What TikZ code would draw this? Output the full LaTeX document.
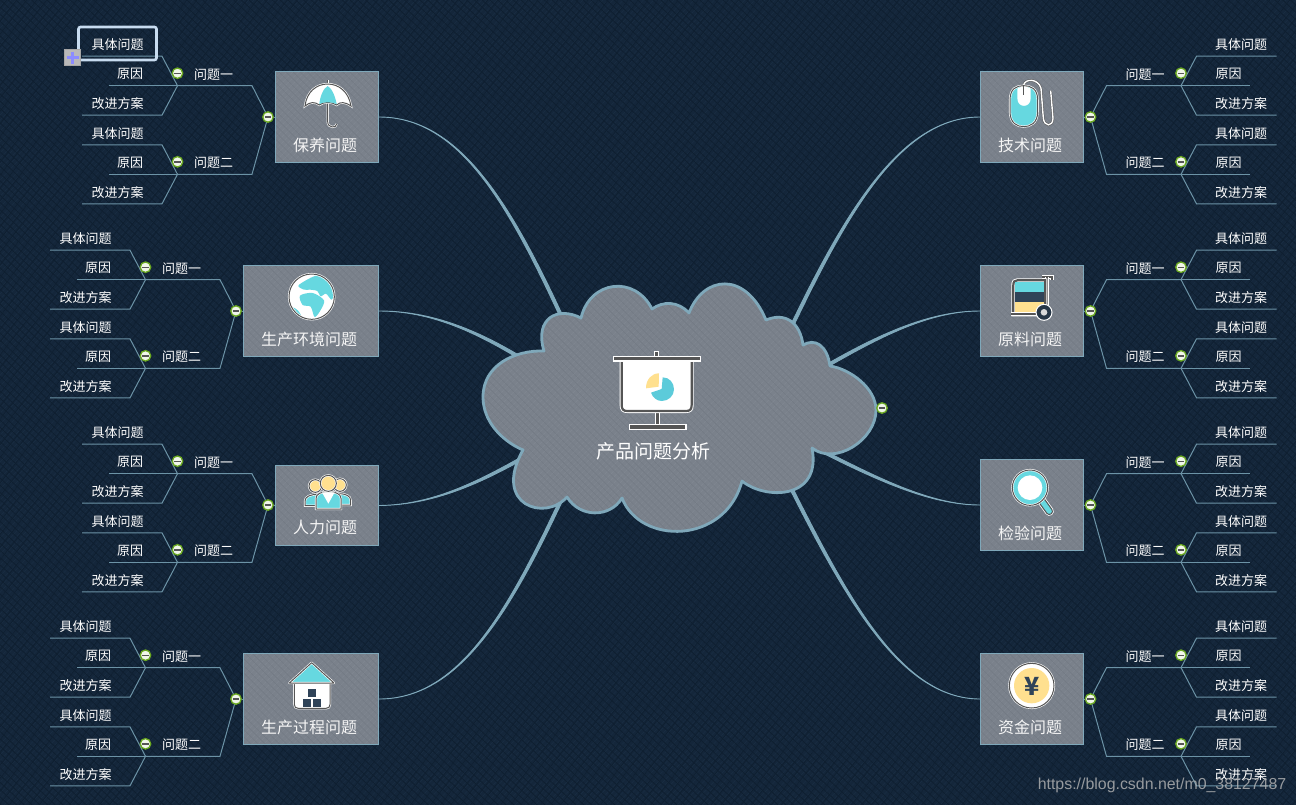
\documentclass[tikz,border=0pt]{standalone}
\usepackage{xcolor}
\usepackage{fontspec}
\setmainfont{Noto Sans CJK SC}
\newfontfamily\markfont{Liberation Sans}
\usetikzlibrary{calc,patterns.meta}

\definecolor{nightblue}{HTML}{14263A}
\definecolor{hatchlight}{HTML}{1A2E43}
\definecolor{hatchdark}{HTML}{0F1F30}
\definecolor{slategray}{HTML}{7A818B}
\definecolor{slatelight}{HTML}{828993}
\definecolor{slatedark}{HTML}{737A84}
\definecolor{edgeblue}{HTML}{7FA8BA}
\definecolor{twigblue}{HTML}{6C93A6}
\definecolor{aqua}{HTML}{66D8E0}
\definecolor{pieblue}{HTML}{5CCBDA}
\definecolor{butter}{HTML}{FFE08F}
\definecolor{inkblue}{HTML}{2F4358}
\definecolor{icongray}{HTML}{555555}
\definecolor{togglegreen}{HTML}{6AA820}
\definecolor{pickblue}{HTML}{C8DCF0}

% one side branch: toggle, two questions, three leaves under each
\newcommand{\issuetree}[5]{%
  \begin{scope}[shift={(#2,#3)},xscale=#4]
    \coordinate (#1hub) at (0,0);
    \foreach \sub/\title/\dy in {a/问题一/-31.3, b/问题二/57.3} {
      \coordinate (#1\sub knee) at (16,\dy);
      \coordinate (#1\sub fork) at (90.5,\dy);
      \draw[twig] (#1hub) -- (#1\sub knee) -- (#1\sub fork);
      \node[leaf] (#1\sub q) at (54.5,\dy-11.4) {\title};
      \foreach \dl/\uend/\utext/\word [count=\n] in {-29.5/186/150.5/具体问题, 0/159/138/原因, 29.5/186/150.5/改进方案} {
        \coordinate (#1\sub\n k) at (106,\dy+\dl);
        \coordinate (#1\sub\n e) at (\uend,\dy+\dl);
        \draw[twig] (#1\sub fork) -- (#1\sub\n k) -- (#1\sub\n e);
        \node[leaf] (#1\sub\n) at (\utext,\dy+\dl-11.4) {\word};
      }
      \node[toggle] (#1\sub t) at (90.5,\dy-12.5) {};
    }
    \node[toggle] (#1t) at (0,0) {};
  \end{scope}
  \draw[twig] (#1t) -- (#1.#5);
}

% tapered trunk from a box to the cloud
\newcommand{\trunk}[5]{%
  \fill[trunkline] (#1) .. controls (#2) and ($(#3)+(#5)$) .. ($(#4)+(#5)$)
    -- ($(#4)-(#5)$) .. controls ($(#3)-(#5)$) and (#2) .. (#1) -- cycle;
}

\begin{document}
\begin{tikzpicture}[
  x=1pt, y=-1pt,
  topic/.style={rectangle, draw=edgeblue, line width=1pt, inner sep=0pt,
    preaction={fill=slategray},
    preaction={pattern={Lines[angle=45,distance=4pt,line width=.5pt]}, pattern color=slatelight},
    preaction={pattern={Lines[angle=-45,distance=5pt,line width=.5pt]}, pattern color=slatedark}},
  topictext/.style={font=\fontsize{16}{18}\selectfont, text=white!96!black, inner sep=0pt},
  leaf/.style={font=\fontsize{13}{15}\selectfont, text=white, inner sep=0pt},
  twig/.style={draw=twigblue, line width=1pt},
  trunkline/.style={fill=edgeblue, draw=edgeblue, line width=.9pt},
  toggle/.style={circle, draw=togglegreen, line width=1.3pt, fill=white!90!togglegreen, minimum size=10.5pt, inner sep=0pt,
    path picture={\draw[line width=1.4pt, icongray] (-3.4,0) -- (3.4,0);}},
  iconline/.style={draw=white, double=icongray, line width=.6pt, double distance=1pt},
  iconheavy/.style={draw=white, double=icongray, line width=.9pt, double distance=2.2pt},
  iconbar/.style={draw=white, fill=icongray, line width=1.1pt},
  selected/.style={rectangle, rounded corners=2pt, draw=pickblue, line width=2.6pt, inner sep=0pt, minimum width=78pt, minimum height=33pt},
  addmark/.style={rectangle, fill=gray!55, draw=gray!70, line width=.6pt, minimum size=16pt, inner sep=0pt,
    path picture={\draw[line width=2.4pt, blue!45!white] (-6,0) -- (6,0) (0,-6) -- (0,6);}}
]
  \useasboundingbox (0,0) rectangle (1296,804);
  % Backdrop
  \fill[nightblue] (-3,-3) rectangle (1299,807);
  \fill[pattern={Lines[angle=47,distance=3.7pt,line width=.5pt]}, pattern color=hatchlight] (-3,-3) rectangle (1299,807);
  \fill[pattern={Lines[angle=-43,distance=5.3pt,line width=.7pt]}, pattern color=hatchdark] (-3,-3) rectangle (1299,807);
  \fill[pattern={Lines[angle=52,distance=7.9pt,line width=.6pt]}, pattern color=hatchdark] (-3,-3) rectangle (1299,807);

  % Topic boxes
  \node[topic, minimum width=103pt, minimum height=91pt] (keep) at (327,117) {};
  \node[topic, minimum width=135pt, minimum height=91pt] (site) at (311,311) {};
  \node[topic, minimum width=103pt, minimum height=80pt] (staff) at (327,505.5) {};
  \node[topic, minimum width=135pt, minimum height=91pt] (flow) at (311,699) {};
  \node[topic, minimum width=103pt, minimum height=91pt] (tech) at (1032,117) {};
  \node[topic, minimum width=103pt, minimum height=91pt] (stock) at (1032,311) {};
  \node[topic, minimum width=103pt, minimum height=91pt] (test) at (1032,505) {};
  \node[topic, minimum width=103pt, minimum height=91pt] (fund) at (1032,699) {};
  \node[topictext] (keepname) at (325,145) {保养问题};
  \node[topictext] (sitename) at (309,339) {生产环境问题};
  \node[topictext] (staffname) at (325,527) {人力问题};
  \node[topictext] (flowname) at (309,727) {生产过程问题};
  \node[topictext] (techname) at (1030,145) {技术问题};
  \node[topictext] (stockname) at (1030,339) {原料问题};
  \node[topictext] (testname) at (1030,533) {检验问题};
  \node[topictext] (fundname) at (1030,727) {资金问题};

  % Trunks into the cloud
  \coordinate (cloudnw) at (564,322);
  \coordinate (cloudwn) at (524,360);
  \coordinate (cloudws) at (526,456);
  \coordinate (cloudsw) at (564,494);
  \coordinate (cloudne) at (789,332);
  \coordinate (clouden) at (823,368);
  \coordinate (cloudes) at (814,447);
  \coordinate (cloudse) at (788,482);
  \trunk{keep.east}{460,117}{510,205}{cloudnw}{1.4,-.6}
  \trunk{site.east}{430,311}{475,330}{cloudwn}{.7,-1.3}
  \trunk{staff.east}{430,505}{475,485}{cloudws}{.7,1.3}
  \trunk{flow.east}{460,699}{510,610}{cloudsw}{1.4,.6}
  \trunk{tech.west}{900,117}{845,215}{cloudne}{1.4,.6}
  \trunk{stock.west}{930,311}{880,335}{clouden}{.7,1.3}
  \trunk{test.west}{930,505}{875,478}{cloudes}{.7,-1.3}
  \trunk{fund.west}{900,699}{845,595}{cloudse}{1.4,-.6}

  % Cloud
  \path[draw=edgeblue, line width=2.8pt, line join=round,
    preaction={fill=slategray},
    preaction={pattern={Lines[angle=45,distance=4pt,line width=.5pt]}, pattern color=slatelight},
    preaction={pattern={Lines[angle=-45,distance=5pt,line width=.5pt]}, pattern color=slatedark}]
    (544,351) .. controls (534,318) and (558,306) .. (581,318)
    .. controls (590,280) and (635,275) .. (652,309)
    .. controls (663,301) and (678,301) .. (689,313)
    .. controls (703,276) and (745,270) .. (766,320)
    .. controls (785,312) and (800,322) .. (803,345)
    .. controls (815,338) and (827,345) .. (830,366)
    .. controls (850,369) and (876,388) .. (876,410)
    .. controls (876,440) and (835,466) .. (812,448)
    .. controls (822,500) and (765,500) .. (742,481)
    .. controls (725,545) and (640,545) .. (622,498)
    .. controls (610,518) and (580,518) .. (567,497)
    .. controls (545,522) and (492,505) .. (523,450)
    .. controls (500,440) and (483,420) .. (483,397)
    .. controls (483,365) and (515,350) .. (544,351) -- cycle;
  \node[font=\fontsize{19}{21}\selectfont, text=white, inner sep=0pt] (root) at (653,451) {产品问题分析};
  \node[toggle] (roottoggle) at (882,408) {};

  % Branches
  \issuetree{keep}{268}{117}{-1}{west}
  \issuetree{site}{236}{311}{-1}{west}
  \issuetree{staff}{268}{505}{-1}{west}
  \issuetree{flow}{236}{699}{-1}{west}
  \issuetree{tech}{1090.5}{117}{1}{east}
  \issuetree{stock}{1090.5}{311}{1}{east}
  \issuetree{test}{1090.5}{505}{1}{east}
  \issuetree{fund}{1090.5}{699}{1}{east}

  % Current selection
  \node[selected] (pick) at (117.5,43.5) {};
  \node[addmark] (addbtn) at (72.5,57.5) {};

  % Icon: projector
  \begin{scope}[shift={(470,270)},scale=1/3]
    \filldraw[iconbar] (554,245) rectangle (566,260);
    \filldraw[iconbar] (557,426) rectangle (569,464);
    \filldraw[iconheavy, fill=white] (455,268) -- (665,268) -- (665,405) .. controls (665,418) and (660,423) .. (648,423) -- (472,423) .. controls (460,423) and (455,418) .. (455,405) -- cycle;
    \filldraw[iconbar] (430,259) rectangle (692,273);
    \filldraw[iconbar] (478,463) rectangle (648,478);
    \fill[pieblue] (575,357) -- (578,322) .. controls (598,322) and (612,338) .. (612,358) .. controls (612,378) and (595,393) .. (575,393) .. controls (560,393) and (548,382) .. (543,368) -- cycle;
    \fill[butter] (566,350) -- (567,310) .. controls (545,310) and (528,328) .. (528,355) -- cycle;
  \end{scope}

  % Icon: umbrella
  \begin{scope}[shift={(40,20)},scale=1/3]
    \draw[iconline] (863,180) -- (863,192);
    \draw[iconline] (863,250) -- (863,305) .. controls (863,325) and (890,325) .. (890,312);
    \filldraw[iconline, fill=white] (795,258) .. controls (800,215) and (830,192) .. (863,192) .. controls (896,192) and (926,215) .. (933,258) .. controls (915,245) and (900,245) .. (890,255) .. controls (875,245) and (850,245) .. (838,255) .. controls (825,245) and (810,245) .. (795,258) -- cycle;
    \fill[aqua] (863,198) .. controls (850,205) and (840,230) .. (838,252) .. controls (850,245) and (875,245) .. (890,252) .. controls (886,230) and (876,205) .. (863,198) -- cycle;
  \end{scope}

  % Icon: globe
  \begin{scope}[shift={(230,255)},scale=1/3]
    \filldraw[iconline, fill=white] (245,125) circle[radius=68];
    \clip (245,125) circle[radius=64];
    \fill[aqua] plot[smooth cycle] coordinates {(205,92) (235,72) (262,62) (292,76) (312,108) (305,134) (288,116) (272,124) (262,108) (240,104) (222,104)};
    \fill[aqua] plot[smooth cycle] coordinates {(210,122) (248,114) (282,136) (272,165) (254,186) (242,155) (218,150)};
    \fill[aqua] plot[smooth cycle] coordinates {(186,158) (205,168) (218,195) (190,195)};
  \end{scope}

  % Icon: people
  \begin{scope}[shift={(260,455)},scale=1/3]
    \filldraw[iconline, fill=aqua] (135,152) -- (135,138) .. controls (135,125) and (150,118) .. (175,118) -- (175,152) -- cycle;
    \filldraw[iconline, fill=aqua] (272,150) -- (272,136) .. controls (272,123) and (258,116) .. (235,116) -- (235,150) -- cycle;
    \filldraw[iconline, fill=butter] (166,93) circle[radius=19];
    \filldraw[iconline, fill=butter] (240,90) circle[radius=19];
    \filldraw[iconline, fill=aqua] (168,162) -- (168,130) .. controls (168,116) and (185,110) .. (205,110) .. controls (225,110) and (243,116) .. (243,130) -- (243,162) -- cycle;
    \fill[white] (186,112) -- (205,146) -- (224,112) -- cycle;
    \filldraw[iconline, fill=butter] (205,85) circle[radius=24];
  \end{scope}

  % Icon: house
  \begin{scope}[shift={(230,645)},scale=1/3]
    \filldraw[iconline, fill=white] (193,112) -- (193,178) .. controls (193,186) and (197,190) .. (205,190) -- (288,190) .. controls (296,190) and (300,186) .. (300,178) -- (300,112) -- cycle;
    \filldraw[iconline, fill=aqua, line join=round] (245,53) -- (312,114) -- (178,114) -- cycle;
    \fill[inkblue] (234,133) rectangle (258,157);
    \fill[inkblue] (218,163) rectangle (242,187);
    \fill[inkblue] (250,163) rectangle (274,187);
  \end{scope}

  % Icon: mouse
  \begin{scope}[shift={(960,20)},scale=1/3]
    \draw[draw=icongray, double=white, line width=.5pt, double distance=1.4pt] (191,222) -- (191,195) .. controls (195,175) and (235,175) .. (243,205) -- (250,295) .. controls (253,320) and (278,322) .. (279,295) -- (272,212);
    \filldraw[iconline, fill=aqua] (150,240) .. controls (150,205) and (170,197) .. (191,197) .. controls (212,197) and (233,205) .. (233,240) -- (233,275) .. controls (233,310) and (210,320) .. (191,320) .. controls (172,320) and (150,310) .. (150,275) -- cycle;
    \fill[white] (172,235) .. controls (172,265) and (212,265) .. (212,235) -- (212,206) .. controls (200,198) and (184,198) .. (172,206) -- cycle;
    \draw[icongray, line width=1pt] (191,197) -- (191,224);
  \end{scope}

  % Icon: cart
  \begin{scope}[shift={(970,255)},scale=1/3]
    \draw[iconheavy] (216,65) -- (246,65) -- (246,74);
    \draw[iconheavy] (232,65) -- (232,165);
    \filldraw[iconheavy, fill=white] (130,178) -- (130,90) .. controls (130,80) and (134,76) .. (142,76) -- (226,76) -- (226,178) -- cycle;
    \fill[aqua] (135,81) rectangle (221,110);
    \fill[inkblue] (135,110) rectangle (221,140);
    \fill[butter] (135,140) rectangle (221,170);
    \draw[iconheavy] (124,178) -- (215,178);
    \filldraw[draw=white, line width=1pt, fill=inkblue!80!black] (222,172) circle[radius=24];
    \fill[white!85!black] (222,172) circle[radius=10];
  \end{scope}

  % Icon: magnifier
  \begin{scope}[shift={(970,450)},scale=1/3]
    \draw[draw=white, line width=9pt, line cap=round] (212,148) -- (238,184);
    \draw[icongray, line width=7.4pt, line cap=round] (212,148) -- (238,184);
    \draw[aqua, line width=5pt, line cap=round] (212,148) -- (238,184);
    \filldraw[iconline, fill=aqua] (180,113) circle[radius=53];
    \fill[white] (180,113) circle[radius=37];
  \end{scope}

  % Icon: coin
  \begin{scope}[shift={(970,645)},scale=1/3]
    \filldraw[iconline, fill=white] (185,122) circle[radius=67];
    \fill[butter] (185,122) circle[radius=53];
    \node[font=\fontsize{25}{27}\selectfont\bfseries, text=inkblue, inner sep=0pt] (yen) at (185,125) {¥};
  \end{scope}

  % Site address
  \node[font=\markfont\fontsize{15.9}{18}\selectfont, text=white!72!black, text opacity=.8, inner sep=0pt] (siteurl) at (1162,785) {https://blog.csdn.net/m0\_38127487};
\end{tikzpicture}
\end{document}
